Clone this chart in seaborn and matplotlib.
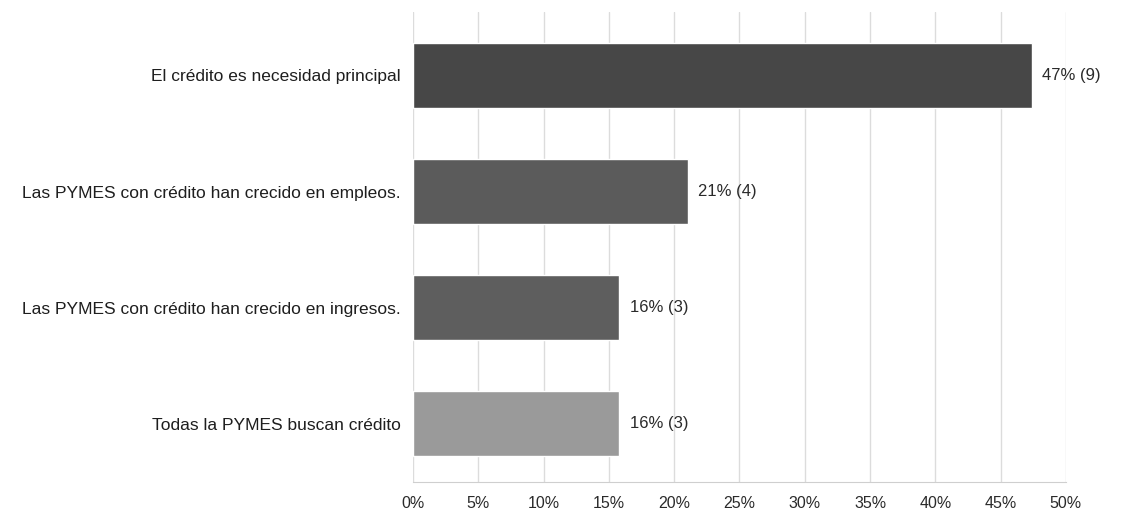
import matplotlib
matplotlib.use("Agg")
import matplotlib.pyplot as plt
import seaborn as sns
import pandas as pd
from matplotlib.ticker import FuncFormatter, MultipleLocator

categories = [
    "El crédito es necesidad principal",
    "Las PYMES con crédito han crecido en empleos.",
    "Las PYMES con crédito han crecido en ingresos.",
    "Todas la PYMES buscan crédito",
]
percent = [47.37, 21.05, 15.79, 15.79]
counts = [9, 4, 3, 3]
bar_colors = ["#474747", "#5b5b5b", "#5e5e5e", "#9a9a9a"]

sns.set_style("white")
plt.rcParams["font.family"] = ["Liberation Sans", "DejaVu Sans"]

df = pd.DataFrame({"cat": categories, "pct": percent})

fig = plt.figure(figsize=(11.37, 5.19), dpi=100)
ax = fig.add_axes([0.3632, 0.0713, 0.5743, 0.9056])

sns.barplot(data=df, y="cat", x="pct", hue="cat", palette=bar_colors,
            order=categories, hue_order=categories, legend=False,
            width=0.56, ax=ax, saturation=1)

ax.set_xlim(0, 50)
ax.set_ylim(3.5, -0.545)
ax.xaxis.set_major_locator(MultipleLocator(5))
ax.xaxis.set_major_formatter(FuncFormatter(lambda v, p: f"{int(round(v))}%"))
ax.grid(axis="x", color="#dcdcdc", linewidth=1)
ax.set_axisbelow(True)
for s in ["top", "right", "left"]:
    ax.spines[s].set_visible(False)
ax.spines["bottom"].set_color("#cfcfcf")
ax.set_xlabel("")
ax.set_ylabel("")
ax.tick_params(axis="x", length=0, pad=10, labelsize=11.5, labelcolor="#2a2a2a")
ax.tick_params(axis="y", length=0, pad=9, labelsize=12.5, labelcolor="#1e1e1e")

for i, (p, c) in enumerate(zip(percent, counts)):
    ax.text(p + 0.8, i, f"{round(p)}% ({c})", va="center", ha="left",
            fontsize=12, color="#2a2a2a")

fig.savefig("out.png", dpi=100)
